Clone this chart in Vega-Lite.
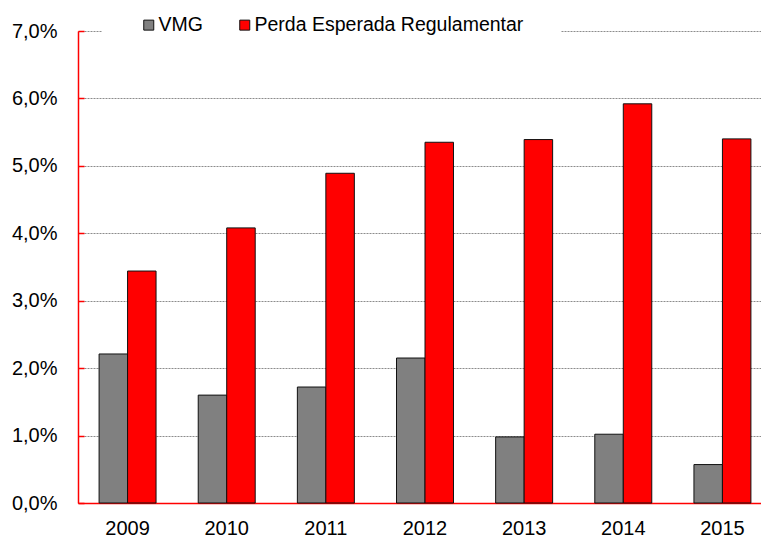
{
  "$schema": "https://vega.github.io/schema/vega-lite/v6.json",
  "autosize": "none",
  "width": 683,
  "height": 472,
  "padding": {"left": 78, "top": 31, "right": 0, "bottom": 34},
  "background": "white",
  "config": {
    "font": "Liberation Sans",
    "view": {"stroke": null}
  },
  "data": {
    "values": [
      {"ano": "2009", "serie": "VMG", "valor": 2.21},
      {"ano": "2010", "serie": "VMG", "valor": 1.60},
      {"ano": "2011", "serie": "VMG", "valor": 1.72},
      {"ano": "2012", "serie": "VMG", "valor": 2.15},
      {"ano": "2013", "serie": "VMG", "valor": 0.98},
      {"ano": "2014", "serie": "VMG", "valor": 1.02},
      {"ano": "2015", "serie": "VMG", "valor": 0.57},
      {"ano": "2009", "serie": "Perda Esperada Regulamentar", "valor": 3.44},
      {"ano": "2010", "serie": "Perda Esperada Regulamentar", "valor": 4.08},
      {"ano": "2011", "serie": "Perda Esperada Regulamentar", "valor": 4.89},
      {"ano": "2012", "serie": "Perda Esperada Regulamentar", "valor": 5.35},
      {"ano": "2013", "serie": "Perda Esperada Regulamentar", "valor": 5.39},
      {"ano": "2014", "serie": "Perda Esperada Regulamentar", "valor": 5.92},
      {"ano": "2015", "serie": "Perda Esperada Regulamentar", "valor": 5.40}
    ]
  },
  "mark": {"type": "bar", "stroke": "#111111", "strokeWidth": 1},
  "encoding": {
    "x": {
      "field": "ano",
      "type": "nominal",
      "scale": {"range": [0, 694], "paddingInner": 0, "paddingOuter": 0},
      "axis": {
        "title": null,
        "labelAngle": 0,
        "ticks": false,
        "domainColor": "#ff0000",
        "domainWidth": 1.5,
        "labelFontSize": 20,
        "labelColor": "#000000",
        "labelPadding": 15,
        "grid": false
      }
    },
    "xOffset": {
      "field": "serie",
      "type": "nominal",
      "sort": ["VMG", "Perda Esperada Regulamentar"],
      "scale": {"paddingInner": 0, "paddingOuter": 0.74}
    },
    "y": {
      "field": "valor",
      "type": "quantitative",
      "scale": {"domain": [0, 7], "nice": false},
      "axis": {
        "title": null,
        "values": [0, 1, 2, 3, 4, 5, 6, 7],
        "labelExpr": "replace(format(datum.value, '.1f'), '.', ',') + '%'",
        "labelFontSize": 20,
        "labelColor": "#000000",
        "labelPadding": 27,
        "tickSize": -6,
        "tickColor": "#ff0000",
        "tickWidth": 1.5,
        "domainColor": "#ff0000",
        "domainWidth": 1.5,
        "grid": true,
        "gridColor": "#8c8c8c",
        "gridDash": [2, 1],
        "gridWidth": 1
      }
    },
    "color": {
      "field": "serie",
      "type": "nominal",
      "scale": {"domain": ["VMG", "Perda Esperada Regulamentar"], "range": ["#808080", "#ff0000"]},
      "legend": {
        "title": null,
        "orient": "none",
        "direction": "horizontal",
        "legendX": 24,
        "legendY": -53,
        "padding": 37,
        "fillColor": "white",
        "symbolType": "square",
        "symbolSize": 100,
        "symbolStrokeColor": "#111111",
        "symbolStrokeWidth": 1,
        "labelFontSize": 19.5,
        "labelColor": "#000000",
        "labelOffset": 0,
        "labelLimit": 0,
        "columnPadding": 32
      }
    }
  }
}
